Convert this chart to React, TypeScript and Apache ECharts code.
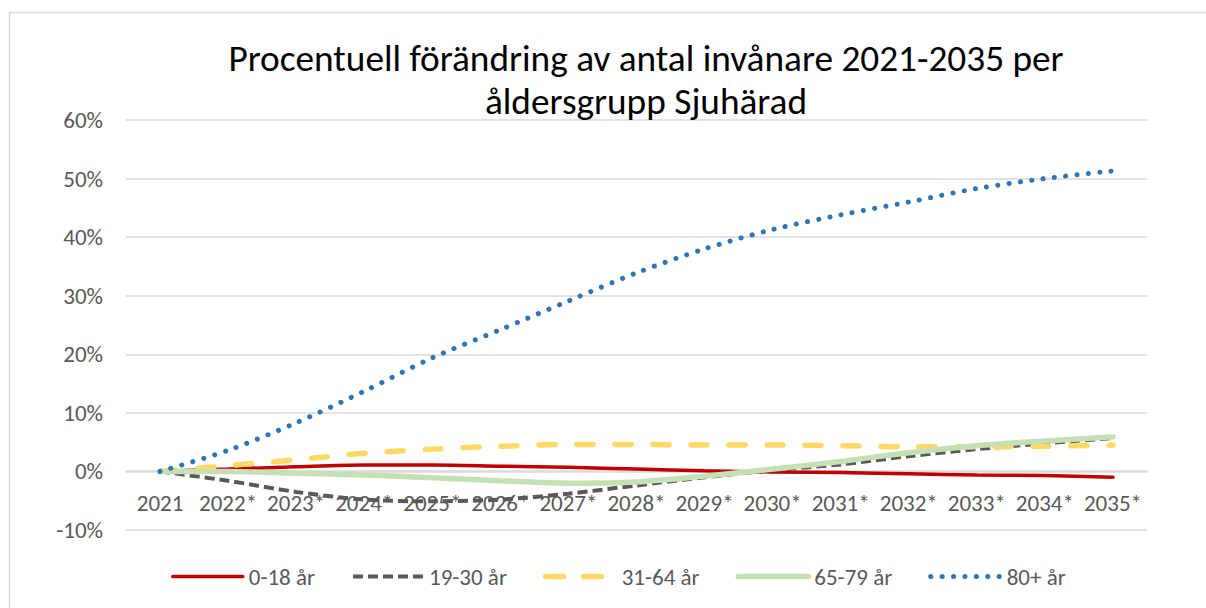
import React, { useEffect, useRef } from "react";
import * as echarts from "echarts";

const categories = ["2021", "2022*", "2023*", "2024*", "2025*", "2026*", "2027*", "2028*", "2029*", "2030*", "2031*", "2032*", "2033*", "2034*", "2035*"];
const age0_18 = [0, 0.4, 0.8, 1.1, 1.1, 0.9, 0.7, 0.4, 0.1, -0.1, -0.2, -0.4, -0.6, -0.7, -1.0];
const age19_30 = [0, -1.6, -3.5, -4.8, -5.1, -4.8, -3.8, -2.4, -1.0, 0.2, 1.2, 2.6, 3.8, 4.8, 5.7];
const age31_64 = [0, 1.0, 2.0, 3.1, 3.8, 4.3, 4.6, 4.6, 4.5, 4.5, 4.4, 4.2, 4.2, 4.3, 4.5];
const age65_79 = [0, 0.0, -0.3, -0.6, -1.1, -1.6, -2.0, -1.8, -0.8, 0.4, 1.7, 3.2, 4.4, 5.2, 5.9];
const age80 = [0, 3.6, 8.3, 13.7, 19.4, 24.2, 29.1, 33.9, 38.0, 41.3, 43.8, 46.0, 48.3, 50.0, 51.3];
const seriesNames = ["0-18 år", "19-30 år", "31-64 år", "65-79 år", "80+ år"];
const yTicks = { min: -10, max: 60, interval: 10 };

const FONT = "Carlito, Lato, sans-serif";

export default function App() {
  const ref = useRef<HTMLDivElement>(null);
  useEffect(() => {
    if (!ref.current) return;
    const chart = echarts.init(ref.current, null, { renderer: "svg" });
    const styles = [
      { color: "#c00000", width: 3.5, type: "solid", cap: "round" },
      { color: "#595959", width: 4, type: [10, 5], cap: "butt" },
      { color: "#ffd966", width: 5.5, type: [16, 22], cap: "round" },
      { color: "#c5e0b4", width: 5.5, type: "solid", cap: "round" },
      { color: "#2e75b6", width: 5, type: [0.1, 11.3], cap: "round" },
    ];
    const datas = [age0_18, age19_30, age31_64, age65_79, age80];
    const legendStyles = [
      { color: "#c00000", width: 3.5, type: "solid", cap: "round" },
      { color: "#595959", width: 4, type: [10, 5], cap: "butt" },
      { color: "#ffd966", width: 5.5, type: [18, 20], cap: "round" },
      { color: "#c5e0b4", width: 5.5, type: "solid", cap: "round" },
      { color: "#2e75b6", width: 5, type: [0.1, 11.3], cap: "round" },
    ];
    chart.setOption({
      animation: false,
      backgroundColor: "#ffffff",
      title: {
        text: "Procentuell förändring av antal invånare 2021-2035 per\nåldersgrupp Sjuhärad",
        left: 641,
        textAlign: "center",
        top: 31,
        textStyle: { fontFamily: FONT, fontSize: 37.3, fontWeight: "normal", color: "#000000", lineHeight: 43 },
      },
      graphic: [
        {
          type: "rect",
          shape: { x: 9.5, y: 12.5, width: 1400, height: 800 },
          style: { fill: "none", stroke: "#d9d9d9", lineWidth: 1.5 },
          silent: true,
        },
      ],
      legend: {
        data: seriesNames.map((n, i) => ({
          name: n,
          itemStyle: { opacity: 0 },
          lineStyle: legendStyles[i],
        })),
        left: 166,
        top: 560,
        itemWidth: 70,
        itemHeight: 14,
        itemGap: 36,
        textStyle: { fontFamily: FONT, fontSize: 23, color: "#595959", padding: [0, 0, 0, 1] },
      },
      grid: { left: 126, right: 59, top: 120, bottom: 78, containLabel: false },
      xAxis: {
        type: "category",
        data: categories,
        boundaryGap: true,
        offset: -59,
        axisTick: { show: false },
        axisLine: { show: true, onZero: false, lineStyle: { color: "#d9d9d9", width: 1.5 } },
        axisLabel: { fontFamily: FONT, fontSize: 23, color: "#595959", margin: 20, interval: 0 },
      },
      yAxis: {
        type: "value",
        min: yTicks.min,
        max: yTicks.max,
        interval: yTicks.interval,
        axisLine: { show: false },
        axisTick: { show: false },
        splitLine: { lineStyle: { color: "#d9d9d9", width: 1.5 } },
        axisLabel: { fontFamily: FONT, fontSize: 23, color: "#595959", margin: 23, formatter: "{value}%" },
      },
      series: seriesNames.map((name, i) => ({
        name,
        type: "line",
        data: datas[i],
        smooth: 0.3,
        symbol: "none",
        lineStyle: styles[i],
        itemStyle: { color: styles[i].color },
      })),
    });
    return () => chart.dispose();
  }, []);
  return <div ref={ref} style={{ position: "absolute", left: 0, top: 0, width: 1206, height: 608 }} />;
}
